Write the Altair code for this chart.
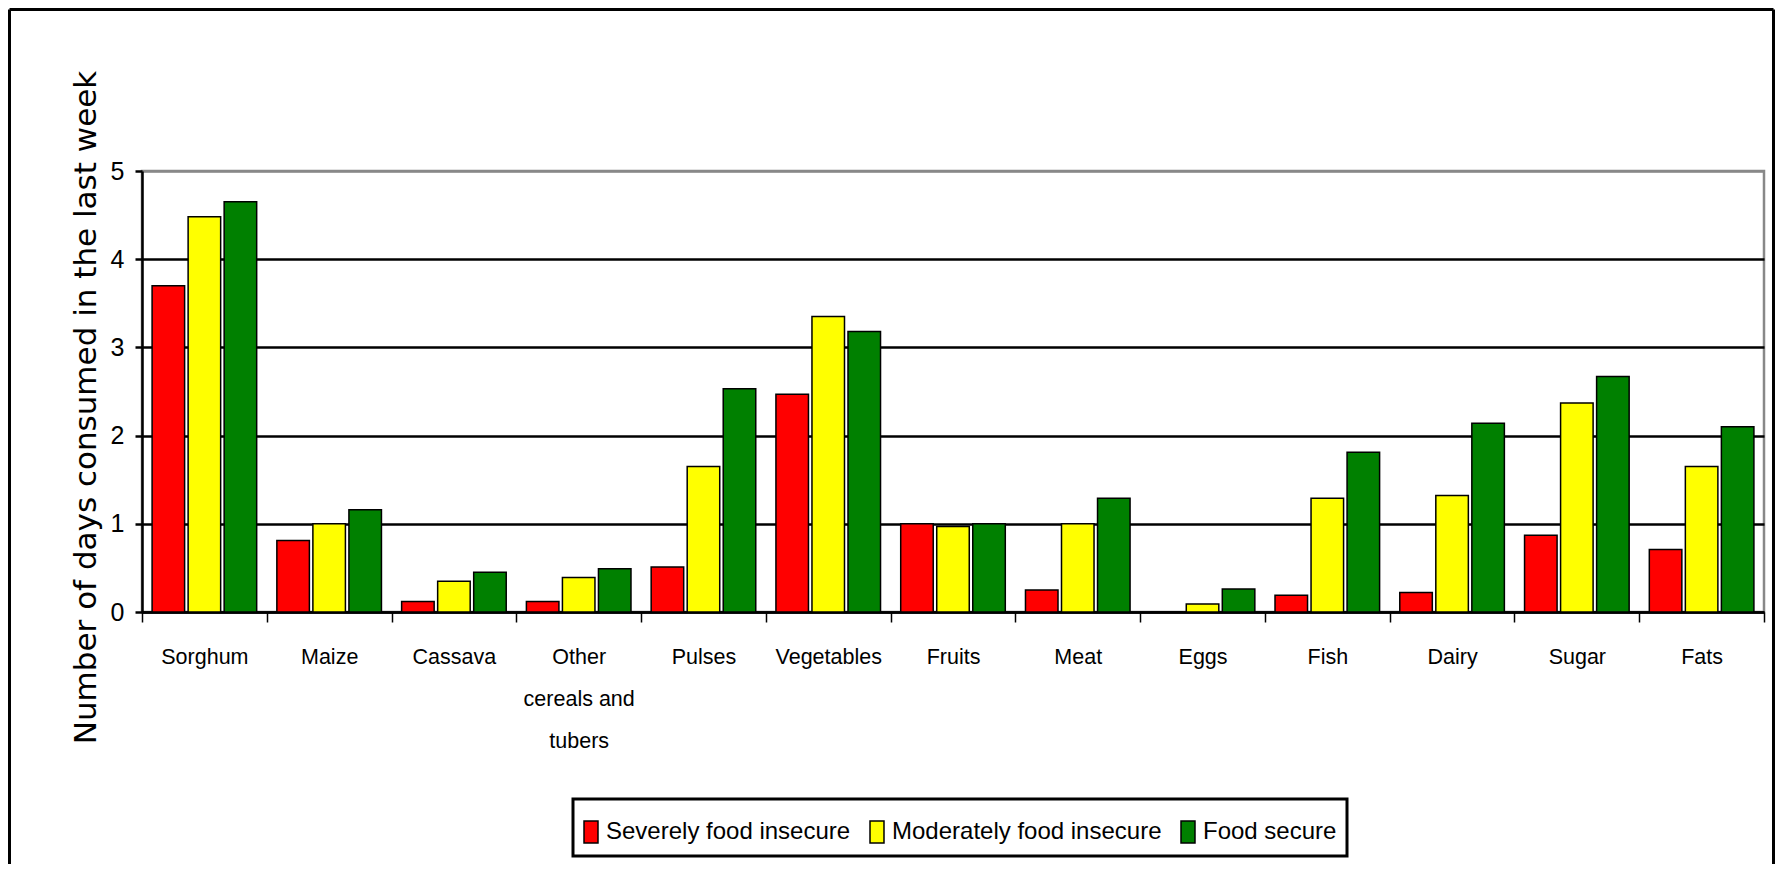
import altair as alt
import pandas as pd

categories = ["Sorghum", "Maize", "Cassava", "Other\ncereals and\ntubers", "Pulses",
              "Vegetables", "Fruits", "Meat", "Eggs", "Fish", "Dairy", "Sugar", "Fats"]
groups = ["Severely food insecure", "Moderately food insecure", "Food secure"]
colors = ["#FF0000", "#FFFF00", "#008000"]
severe = [3.70, 0.81, 0.12, 0.12, 0.51, 2.47, 1.00, 0.25, 0.0, 0.19, 0.22, 0.87, 0.71]
moderate = [4.48, 1.00, 0.35, 0.39, 1.65, 3.35, 0.97, 1.00, 0.09, 1.29, 1.32, 2.37, 1.65]
secure = [4.65, 1.16, 0.45, 0.49, 2.53, 3.18, 1.00, 1.29, 0.26, 1.81, 2.14, 2.67, 2.10]
y_ticks = [0, 1, 2, 3, 4, 5]

rows = []
for series, vals in zip(groups, [severe, moderate, secure]):
    for c, v in zip(categories, vals):
        rows.append({"food": c, "group": series, "days": v})
df = pd.DataFrame(rows)

SANS = "Liberation Sans, Arial, sans-serif"
W, H = 1622, 441

bars = alt.Chart(df).mark_bar(stroke="black", strokeWidth=1.5).encode(
    x=alt.X("food:N", sort=categories,
            scale=alt.Scale(paddingInner=0, paddingOuter=0),
            axis=alt.Axis(title=None, labelAngle=0, labelExpr="split(datum.label, '\\n')",
                          labelFont=SANS, labelFontSize=21.5, labelColor="black",
                          labelLineHeight=42, labelPadding=24.5, labelBaseline="top",
                          tickBand="extent", tickSize=10, tickColor="black", tickWidth=1.5,
                          domainColor="black", domainWidth=2.5, grid=False)),
    xOffset=alt.XOffset("group:N", sort=groups,
                        scale=alt.Scale(paddingInner=0.097, paddingOuter=0.28)),
    y=alt.Y("days:Q", scale=alt.Scale(domain=[0, 5], nice=False),
            axis=alt.Axis(values=y_ticks, title="Number of days consumed in the last week",
                          titleFont="DejaVu Sans", titleFontSize=31, titleFontWeight="normal",
                          titleColor="black", titleAngle=270, titleAlign="center",
                          titleBaseline="alphabetic", titleX=-47, titleY=236,
                          labelFont=SANS, labelFontSize=25, labelColor="black",
                          labelPadding=11, tickSize=7, tickColor="black", tickWidth=2.5,
                          domainColor="black", domainWidth=2.5,
                          gridColor={"condition": {"test": "datum.value == 5", "value": "#888888"},
                                     "value": "black"},
                          gridWidth=2.5)),
    color=alt.Color("group:N", sort=groups,
                    scale=alt.Scale(domain=groups, range=colors),
                    legend=alt.Legend(title=None, orient="none", direction="horizontal",
                                      legendX=431, legendY=628,
                                      labelFont=SANS, labelFontSize=24, labelColor="black",
                                      labelLimit=500,
                                      symbolType="M-0.318,-0.5H0.318V0.5H-0.318Z",
                                      symbolSize=1936, symbolStrokeColor="black",
                                      symbolStrokeWidth=1.5, symbolOpacity=1,
                                      symbolOffset={"expr": "-15"},
                                      labelOffset={"expr": "-8"},
                                      columnPadding=16, padding=10,
                                      strokeColor="black", fillColor="white")),
)

frame_data = alt.Data(values=[{"k": 1}])
left_border = alt.Chart(frame_data).mark_rule(color="black", strokeWidth=3).encode(
    x=alt.value(-132.5), y=alt.value(-161.5), y2=alt.value(H + 260))
top_border = alt.Chart(frame_data).mark_rule(color="black", strokeWidth=3).encode(
    x=alt.value(-132.5), x2=alt.value(W + 9.5), y=alt.value(-161.5))
right_border = alt.Chart(frame_data).mark_rule(color="black", strokeWidth=3).encode(
    x=alt.value(W + 9.5), y=alt.value(-161.5), y2=alt.value(H + 260))

chart = alt.layer(bars, left_border, top_border, right_border).properties(
    width=W, height=H,
    autosize=alt.AutoSizeParams(type="none"),
    padding={"left": 134, "top": 163, "right": 11, "bottom": 252},
    background="white",
).configure_view(
    stroke="#888888", strokeWidth=2.5
).configure_legend(
    strokeWidth=3
)

chart.save("out.html", embed_options={"renderer": "svg", "actions": False})
